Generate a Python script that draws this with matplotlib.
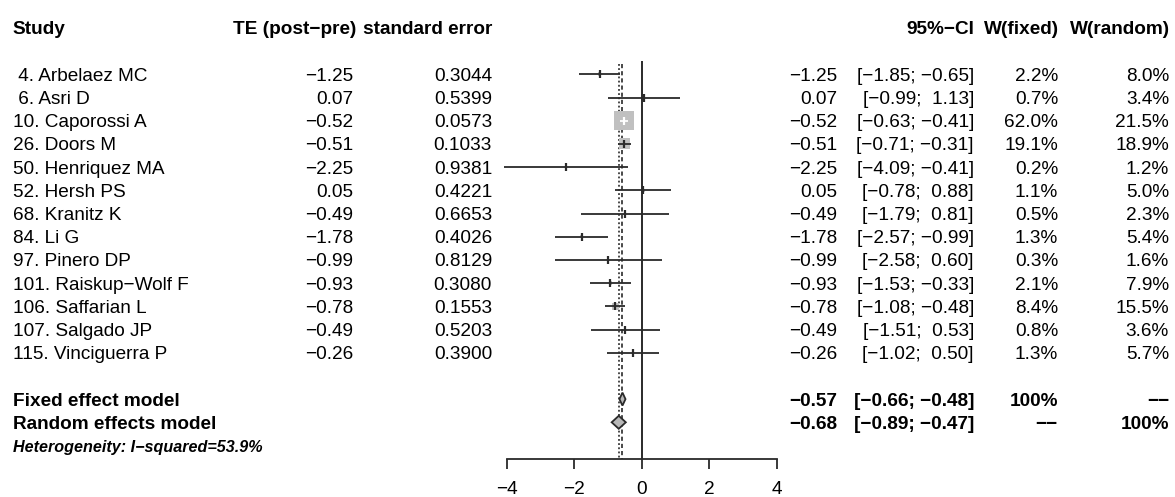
import numpy as np
import matplotlib
matplotlib.use("Agg")
import matplotlib.pyplot as plt
from matplotlib import transforms

plt.rcParams["font.family"] = ["Liberation Sans", "DejaVu Sans"]

# ---- data ----
studies = [" 4. Arbelaez MC", " 6. Asri D", "10. Caporossi A", "26. Doors M",
           "50. Henriquez MA", "52. Hersh PS", "68. Kranitz K", "84. Li G",
           "97. Pinero DP", "101. Raiskup\u2212Wolf F", "106. Saffarian L",
           "107. Salgado JP", "115. Vinciguerra P"]
te = [-1.25, 0.07, -0.52, -0.51, -2.25, 0.05, -0.49, -1.78, -0.99, -0.93, -0.78, -0.49, -0.26]
se = ["0.3044", "0.5399", "0.0573", "0.1033", "0.9381", "0.4221", "0.6653",
      "0.4026", "0.8129", "0.3080", "0.1553", "0.5203", "0.3900"]
lower = [-1.85, -0.99, -0.63, -0.71, -4.09, -0.78, -1.79, -2.57, -2.58, -1.53, -1.08, -1.51, -1.02]
upper = [-0.65, 1.13, -0.41, -0.31, -0.41, 0.88, 0.81, -0.99, 0.60, -0.33, -0.48, 0.53, 0.50]
w_fixed = [2.2, 0.7, 62.0, 19.1, 0.2, 1.1, 0.5, 1.3, 0.3, 2.1, 8.4, 0.8, 1.3]
w_random = [8.0, 3.4, 21.5, 18.9, 1.2, 5.0, 2.3, 5.4, 1.6, 7.9, 15.5, 3.6, 5.7]

fixed_est, fixed_lo, fixed_hi = -0.57, -0.66, -0.48
random_est, random_lo, random_hi = -0.68, -0.89, -0.47
i2 = 53.9
xticks = [-4, -2, 0, 2, 4]

# ---- layout (pixels) ----
W, H = 1175, 497
ROW_PX = 23.2
Y0_PX = 74.3
PX_PER_UNIT = 33.75
X0_PX = 506.7          # pixel of x = -4
FS = 13.7
MINUS = "\u2212"
LINE_COL = "#2a2a2a"


def fmt(v, nd=2):
    return f"{v:.{nd}f}".replace("-", MINUS)


def fmt_ci(lo, hi):
    hs = fmt(hi)
    if hi >= 0:
        hs = " " + hs
    return f"[{fmt(lo)}; {hs}]"


fig = plt.figure(figsize=(W / 100, H / 100), dpi=100)
ax = fig.add_axes([X0_PX / W, 0, 8 * PX_PER_UNIT / W, 1])
ax.set_xlim(-4, 4)
ax.set_ylim((H - Y0_PX) / ROW_PX, -Y0_PX / ROW_PX)
ax.patch.set_visible(False)

rows = np.arange(len(studies))
row_fixed = len(studies) + 1
row_random = row_fixed + 1
row_het = row_random + 1
row_head = -2
axis_row = 16.58

# reference lines
ax.vlines(0, -0.58, axis_row, color=LINE_COL, lw=1.4, zorder=1)
ax.vlines(fixed_est, -0.44, axis_row, color=LINE_COL, lw=1.2,
          linestyles=[(0, (2.5, 1.8))], zorder=1)
ax.vlines(random_est, -0.44, axis_row, color=LINE_COL, lw=1.2,
          linestyles=[(0, (1.1, 1.4))], zorder=1)

# squares sized by fixed weight
side_px = 19.5 * np.sqrt(np.array(w_fixed) / max(w_fixed))
ax.scatter(te, rows, marker="s", s=(side_px * 0.72) ** 2, c="#c0c0c0",
           edgecolors="none", zorder=3)

# CI lines
for i in range(len(studies)):
    hw = side_px[i] / 2 / PX_PER_UNIT
    inside = lower[i] > te[i] - hw and upper[i] < te[i] + hw
    col = "white" if inside else LINE_COL
    ax.plot([lower[i], upper[i]], [rows[i], rows[i]], color=col, lw=1.3,
            zorder=4, clip_on=False, solid_capstyle="butt")
    ax.plot([te[i]], [rows[i]], marker="|", ms=5.5, mew=1.6, color=col,
            zorder=4, clip_on=False)

# diamonds
dh = 0.28
for r, est, lo, hi in [(row_fixed, fixed_est, fixed_lo, fixed_hi),
                       (row_random, random_est, random_lo, random_hi)]:
    ax.fill([lo, est, hi, est], [r, r - dh, r, r + dh], fc="#b8b8b8",
            ec=LINE_COL, lw=1.3, zorder=5)

# x axis
for s in ["left", "right", "top"]:
    ax.spines[s].set_visible(False)
ax.spines["bottom"].set_position(("data", axis_row))
ax.spines["bottom"].set_bounds(-4, 4)
ax.spines["bottom"].set_linewidth(1.3)
ax.spines["bottom"].set_color(LINE_COL)
ax.set_xticks(xticks)
ax.tick_params(axis="x", direction="out", length=7.2, width=1.3,
               color=LINE_COL, labelsize=FS, pad=9)
ax.set_yticks([])

# ---- text columns ----
tr = transforms.blended_transform_factory(fig.transFigure, ax.transData)


def put(xpx, row, s, ha="right", weight="normal", style="normal", size=FS):
    ax.text(xpx / W, row, s, transform=tr, ha=ha, va="center_baseline",
            fontsize=size, fontweight=weight, fontstyle=style, clip_on=False)


# header
put(12.7, row_head, "Study", ha="left", weight="bold")
put(356, row_head, "TE (post\u2212pre)", weight="bold")
put(492.5, row_head, "standard error", weight="bold")
put(974, row_head, "95%\u2212CI", weight="bold")
put(1059, row_head, "W(fixed)", weight="bold")
put(1170, row_head, "W(random)", weight="bold")

for i in range(len(studies)):
    put(12.7, rows[i], studies[i], ha="left")
    put(353, rows[i], fmt(te[i]))
    put(492, rows[i], se[i])
    put(837, rows[i], fmt(te[i]))
    put(974, rows[i], fmt_ci(lower[i], upper[i]))
    put(1058, rows[i], f"{w_fixed[i]:.1f}%")
    put(1169, rows[i], f"{w_random[i]:.1f}%")

put(12.7, row_fixed, "Fixed effect model", ha="left", weight="bold")
put(837, row_fixed, fmt(fixed_est), weight="bold")
put(974, row_fixed, fmt_ci(fixed_lo, fixed_hi), weight="bold")
put(1058, row_fixed, "100%", weight="bold")
put(1169, row_fixed, "\u2212\u2212", weight="bold")

put(12.7, row_random, "Random effects model", ha="left", weight="bold")
put(837, row_random, fmt(random_est), weight="bold")
put(974, row_random, fmt_ci(random_lo, random_hi), weight="bold")
put(1058, row_random, "\u2212\u2212", weight="bold")
put(1169, row_random, "100%", weight="bold")

put(12.7, row_het, f"Heterogeneity: I\u2212squared={i2}%", ha="left",
    weight="bold", style="italic", size=11.6)

fig.savefig("out.png", dpi=100)
